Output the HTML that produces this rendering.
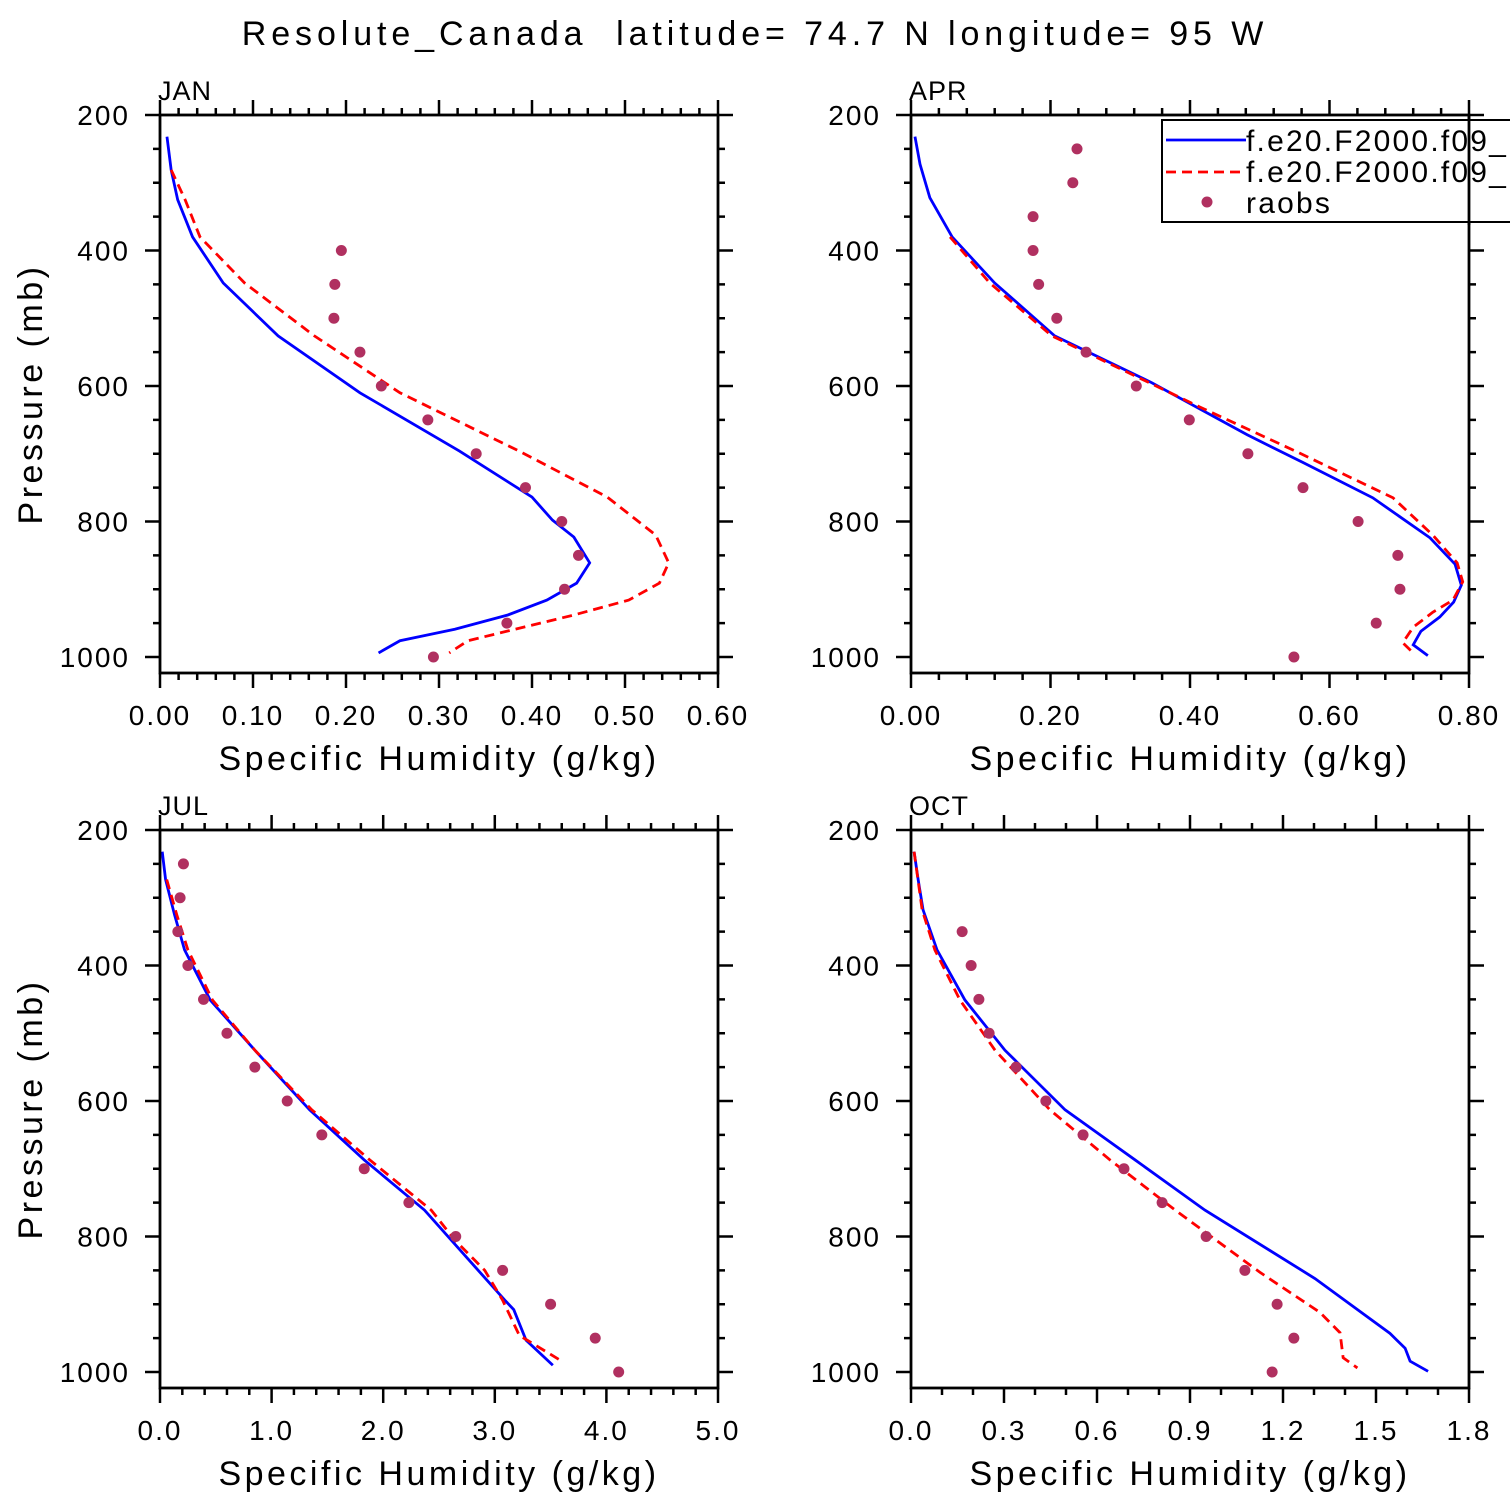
<!DOCTYPE html>
<html><head><meta charset="utf-8"><style>
html,body{margin:0;padding:0;background:#fff;}
svg{display:block;font-family:"Liberation Sans",sans-serif;}
</style></head><body>
<svg id="chart" width="1510" height="1510" viewBox="0 0 1510 1510" xmlns="http://www.w3.org/2000/svg">
<text x="755" y="45" font-size="34" text-anchor="middle" letter-spacing="4.9" fill="#000" xml:space="preserve">Resolute_Canada  latitude= 74.7 N longitude= 95 W</text>
</svg>
<script>
// ---- data (pressure in mb, humidity in g/kg) ----
const janBlueP=[232,281,325,380,448,526,610,696,764,798,823,861,891,916,938,959,976,994];
const janBlueQ=[0.0075,0.012,0.019,0.035,0.068,0.127,0.215,0.322,0.400,0.422,0.445,0.462,0.448,0.416,0.374,0.317,0.258,0.235];
const janRedP=[281,325,380,448,526,610,696,764,820,861,891,916,938,976,994];
const janRedQ=[0.012,0.027,0.043,0.091,0.166,0.258,0.386,0.481,0.533,0.547,0.537,0.504,0.445,0.331,0.311];
const janObsP=[400,450,500,550,600,650,700,750,800,850,900,950,1000];
const janObsQ=[0.195,0.188,0.187,0.215,0.238,0.288,0.340,0.393,0.432,0.450,0.435,0.373,0.294];

const aprBlueP=[232,273,322,380,448,526,594,672,713,765,824,863,894,919,941,962,982,998];
const aprBlueQ=[0.0057,0.013,0.027,0.059,0.120,0.206,0.343,0.482,0.562,0.662,0.744,0.780,0.789,0.778,0.758,0.731,0.720,0.741];
const aprRedP=[380,448,526,631,697,765,820,861,889,916,934,956,979,994];
const aprRedQ=[0.056,0.113,0.202,0.414,0.553,0.691,0.748,0.783,0.791,0.777,0.748,0.720,0.705,0.720];
const aprObsP=[250,300,350,400,450,500,550,600,650,700,750,800,850,900,950,1000];
const aprObsQ=[0.238,0.232,0.175,0.175,0.183,0.209,0.251,0.323,0.399,0.483,0.562,0.641,0.698,0.701,0.667,0.549];

const julBlueP=[232,273,325,377,451,525,613,687,761,835,894,908,953,990];
const julBlueQ=[0.02,0.05,0.13,0.22,0.45,0.85,1.34,1.83,2.37,2.77,3.09,3.17,3.28,3.52];
const julRedP=[273,325,377,451,525,613,687,761,805,850,894,946,983];
const julRedQ=[0.06,0.15,0.25,0.47,0.85,1.36,1.88,2.43,2.64,2.91,3.07,3.22,3.59];
const julObsP=[250,300,350,400,450,500,550,600,650,700,750,800,850,900,950,1000];
const julObsQ=[0.21,0.18,0.16,0.25,0.39,0.60,0.85,1.14,1.45,1.83,2.23,2.65,3.07,3.50,3.90,4.11];

const octBlueP=[232,273,318,377,451,525,613,687,761,862,943,965,984,999];
const octBlueQ=[0.01,0.023,0.039,0.084,0.174,0.303,0.497,0.723,0.948,1.303,1.545,1.594,1.610,1.668];
const octRedP=[232,318,377,451,525,613,687,761,853,912,942,964,979,994];
const octRedQ=[0.01,0.036,0.077,0.158,0.271,0.448,0.642,0.852,1.126,1.319,1.384,1.390,1.394,1.440];
const octObsP=[350,400,450,500,550,600,650,700,750,800,850,900,950,1000];
const octObsQ=[0.165,0.194,0.219,0.252,0.339,0.435,0.555,0.687,0.810,0.952,1.077,1.181,1.235,1.165];

const janTicks=["0.00","0.10","0.20","0.30","0.40","0.50","0.60"];
const aprTicks=["0.00","0.20","0.40","0.60","0.80"];
const julTicks=["0.0","1.0","2.0","3.0","4.0","5.0"];
const octTicks=["0.0","0.3","0.6","0.9","1.2","1.5","1.8"];
const yTicks=[200,400,600,800,1000];

const NS="http://www.w3.org/2000/svg";
const svg=document.getElementById('chart');
function mk(tag,attrs,parent){const e=document.createElementNS(NS,tag);for(const k in attrs)e.setAttribute(k,attrs[k]);(parent||svg).appendChild(e);return e;}

function panel(cfg){
  const g=mk('g',{});
  
  
  const L=cfg.x0,R=cfg.x0+558,T=cfg.y0,Bpx=cfg.y0+558;
  const xmax=parseFloat(cfg.ticks[cfg.ticks.length-1]);
  const X=v=>L+v/xmax*558;
  const Y=p=>T+(p-200)*542/800;
  const cid='clip-'+cfg.name;
  const cp=mk('clipPath',{id:cid},g);mk('rect',{x:L,y:T,width:558,height:558},cp);
  const lb=mk('polyline',{points:cfg.bp.map((p,i)=>X(cfg.bq[i])+','+Y(p)).join(' '),fill:'none',stroke:'#0000ff','stroke-width':2.8,'clip-path':'url(#'+cid+')'},g);
  
  
  const lr=mk('polyline',{points:cfg.rp.map((p,i)=>X(cfg.rq[i])+','+Y(p)).join(' '),fill:'none',stroke:'#ff0000','stroke-width':2.8,'stroke-dasharray':'10,6','clip-path':'url(#'+cid+')'},g);
  
  
  cfg.op.forEach((p,i)=>{
    const c=mk('circle',{cx:X(cfg.oq[i]),cy:Y(p),r:5.5,fill:'#b03060'},g);
    
    
  });
  const fr=mk('rect',{x:L,y:T,width:558,height:558,fill:'none',stroke:'#000','stroke-width':2.8},g);
  
  
  for(let p=200;p<=1000;p+=50){
    const len=(p%200===0)?15:7;
    const y=Y(p);
    mk('line',{x1:L-len,y1:y,x2:L,y2:y,stroke:'#000','stroke-width':2.5},g);
    mk('line',{x1:R,y1:y,x2:R+len,y2:y,stroke:'#000','stroke-width':2.5},g);
  }
  yTicks.forEach(p=>{
    const t=mk('text',{x:L-30,y:Y(p)+10,'font-size':28,'text-anchor':'end','letter-spacing':2},g);
    t.textContent=p;
    
    
  });
  const nMaj=cfg.ticks.length-1, nMin=cfg.minor;
  for(let i=0;i<=nMaj*nMin;i++){
    const x=L+i*558/(nMaj*nMin);
    const len=(i%nMin===0)?15:7;
    mk('line',{x1:x,y1:Bpx,x2:x,y2:Bpx+len,stroke:'#000','stroke-width':2.5},g);
    mk('line',{x1:x,y1:T-len,x2:x,y2:T,stroke:'#000','stroke-width':2.5},g);
  }
  cfg.ticks.forEach(s=>{
    const t=mk('text',{x:X(parseFloat(s)),y:Bpx+52,'font-size':28,'text-anchor':'middle','letter-spacing':2},g);
    t.textContent=s;
    
    
  });
  const xt=mk('text',{x:L+279,y:Bpx+97,'font-size':34,'text-anchor':'middle','letter-spacing':3.5},g);
  xt.textContent='Specific Humidity (g/kg)';
  
  
  const mt=mk('text',{x:L-2,y:T-15,'font-size':27,'letter-spacing':1},g);
  mt.textContent=cfg.label;
  
  
  if(cfg.ytitle){
    const yt=mk('text',{x:0,y:0,'font-size':34,'text-anchor':'middle','letter-spacing':3.5,transform:'translate(42,'+(T+279)+') rotate(-90)'},g);
    yt.textContent='Pressure (mb)';
    
    
  }
  return g;
}
panel({name:'jan',label:'JAN',x0:160,y0:115,ticks:janTicks,minor:5,bp:janBlueP,bq:janBlueQ,rp:janRedP,rq:janRedQ,op:janObsP,oq:janObsQ,ytitle:true});
panel({name:'apr',label:'APR',x0:911,y0:115,ticks:aprTicks,minor:5,bp:aprBlueP,bq:aprBlueQ,rp:aprRedP,rq:aprRedQ,op:aprObsP,oq:aprObsQ,ytitle:false});
panel({name:'jul',label:'JUL',x0:160,y0:830,ticks:julTicks,minor:5,bp:julBlueP,bq:julBlueQ,rp:julRedP,rq:julRedQ,op:julObsP,oq:julObsQ,ytitle:true});
panel({name:'oct',label:'OCT',x0:911,y0:830,ticks:octTicks,minor:3,bp:octBlueP,bq:octBlueQ,rp:octRedP,rq:octRedQ,op:octObsP,oq:octObsQ,ytitle:false});

const lg=mk('g',{});


mk('rect',{x:1162,y:120,width:360,height:102,fill:'#fff',stroke:'#000','stroke-width':2},lg);
mk('line',{x1:1166,y1:140,x2:1246,y2:140,stroke:'#0000ff','stroke-width':2.8},lg);
mk('line',{x1:1166,y1:172,x2:1246,y2:172,stroke:'#ff0000','stroke-width':2.8,'stroke-dasharray':'10,6'},lg);
mk('circle',{cx:1207,cy:202,r:5.5,fill:'#b03060'},lg);
[['f.e20.F2000.f09_',151],['f.e20.F2000.f09_',182],['raobs',213]].forEach((a,i)=>{
  const t=mk('text',{x:1246,y:a[1],'font-size':30,'letter-spacing':2.2},lg);
  t.textContent=a[0];
  
  
});
mk('line',{x1:1469,y1:115,x2:1469,y2:225,stroke:'#000','stroke-width':2.8},lg);
</script>
</body></html>
